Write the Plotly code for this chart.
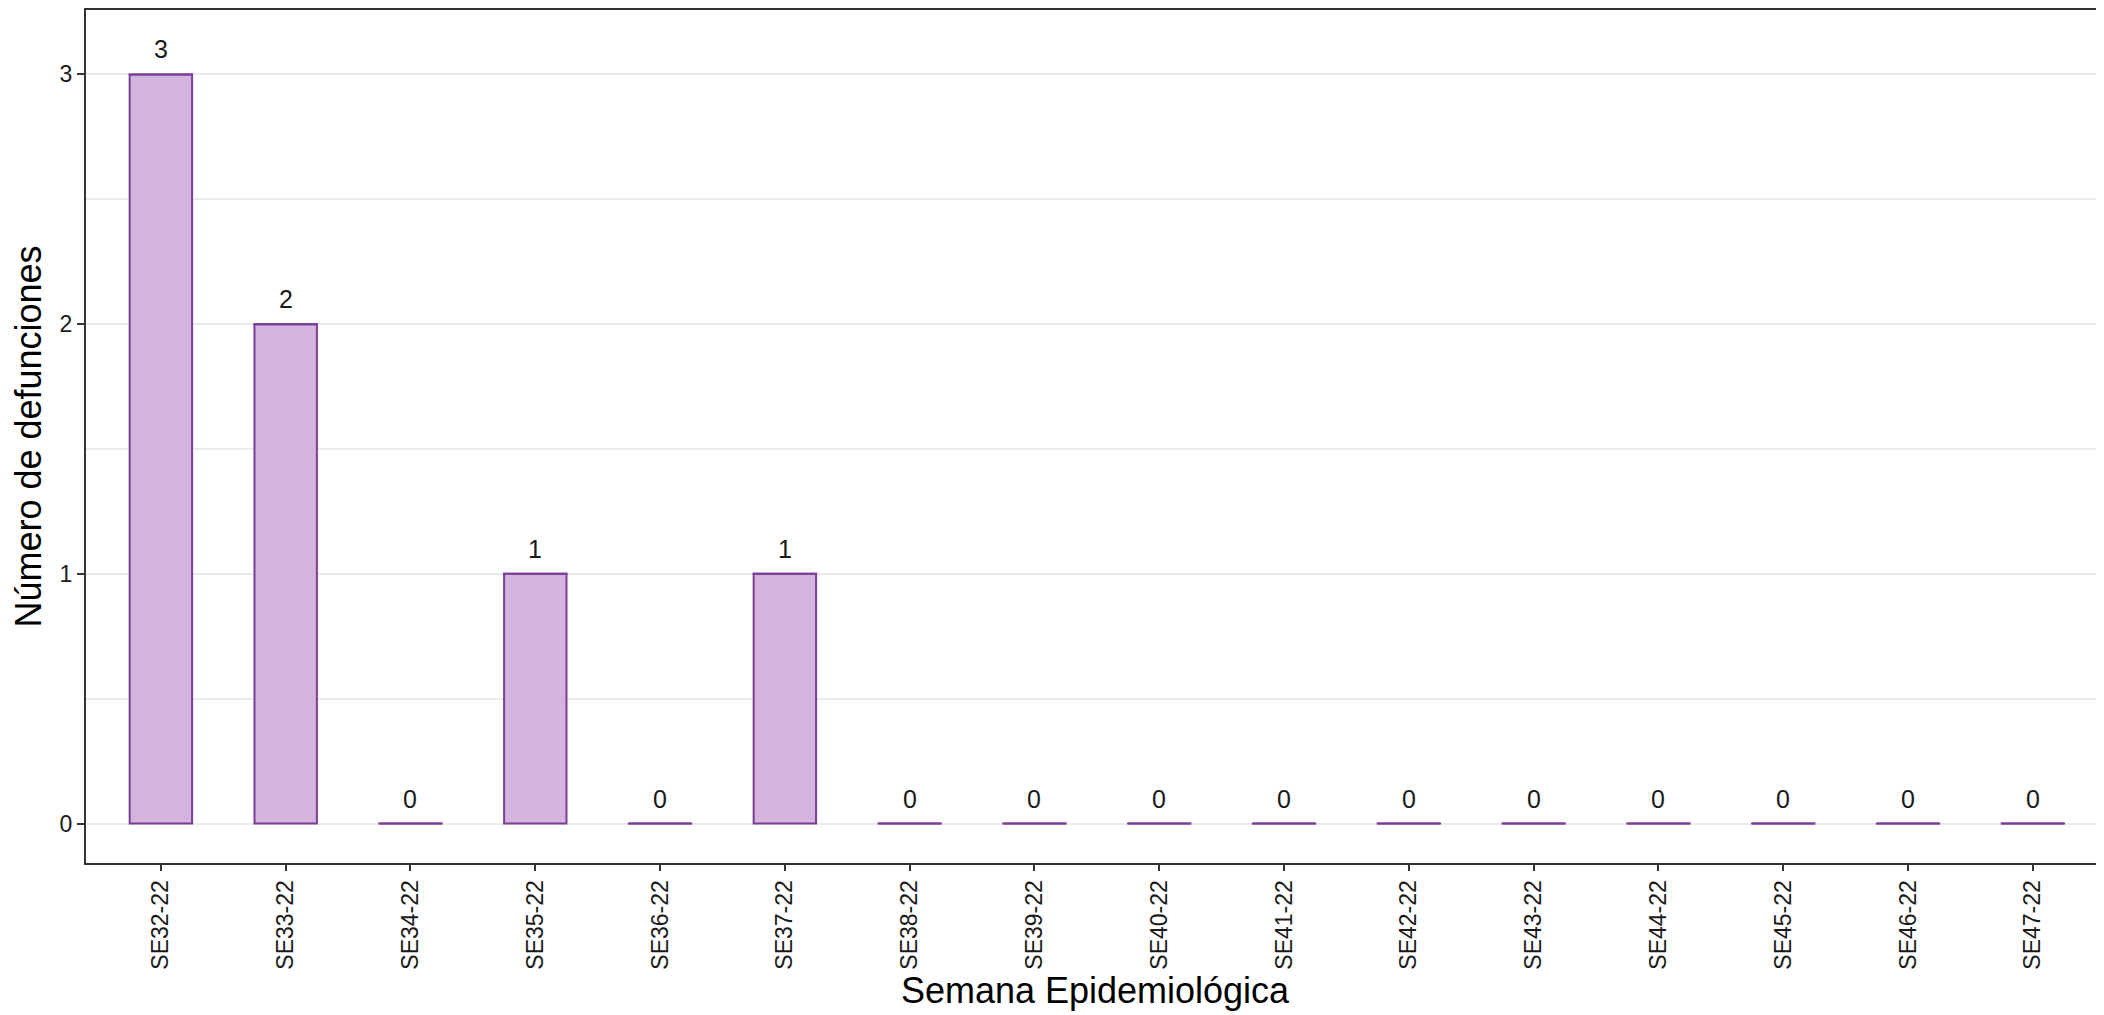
import plotly.graph_objects as go

weeks = ["SE32-22", "SE33-22", "SE34-22", "SE35-22", "SE36-22", "SE37-22", "SE38-22", "SE39-22",
         "SE40-22", "SE41-22", "SE42-22", "SE43-22", "SE44-22", "SE45-22", "SE46-22", "SE47-22"]
deaths = [3, 2, 0, 1, 0, 1, 0, 0, 0, 0, 0, 0, 0, 0, 0, 0]
y_ticks = [0, 1, 2, 3]

FILL = "#D4B4DE"
EDGE = "#7A3E96"
AXIS = "#333333"
TXT = "#1a1a1a"
FONT = "Liberation Sans, Arial, sans-serif"

fig = go.Figure()
fig.add_trace(go.Bar(
    x=list(range(len(weeks))), y=deaths, width=0.5,
    marker=dict(color=FILL, line=dict(color=EDGE, width=2)),
    hoverinfo="x+y", showlegend=False,
))
# outline segment for zero-height bars
fig.add_trace(go.Scatter(
    x=list(range(len(weeks))), y=deaths, mode="markers",
    marker=dict(symbol="line-ew", size=46, line=dict(color=EDGE, width=2)),
    hoverinfo="skip", showlegend=False,
))

for i, v in enumerate(deaths):
    fig.add_annotation(x=i, y=v, text=str(v), showarrow=False, yshift=25,
                       font=dict(family=FONT, size=25, color=TXT))

fig.update_layout(
    width=2096, height=1007, autosize=False,
    margin=dict(l=78, r=0, t=0, b=152),
    paper_bgcolor="white", plot_bgcolor="white",
    font=dict(family=FONT, color=TXT),
)
fig.update_xaxes(
    range=[-0.6, 15.57],
    tickmode="array", tickvals=list(range(len(weeks))), ticktext=weeks,
    tickangle=-90, tickfont=dict(family=FONT, size=23, color=TXT),
    ticks="outside", ticklen=6, tickwidth=2, tickcolor=AXIS,
    showline=True, linecolor=AXIS, linewidth=2, mirror=True,
    showgrid=False, zeroline=False,
    title=dict(text="Semana Epidemiológica", font=dict(family=FONT, size=36, color="black"), standoff=4),
)
fig.update_yaxes(
    range=[-0.158, 3.258],
    tickmode="array", tickvals=y_ticks, ticktext=[str(t) for t in y_ticks],
    tickfont=dict(family=FONT, size=23, color=TXT),
    ticks="outside", ticklen=7, tickwidth=2, tickcolor=AXIS,
    showline=True, linecolor=AXIS, linewidth=2, mirror=False,
    showgrid=True, gridcolor="#EBEBEB", gridwidth=1.5,
    minor=dict(dtick=0.5, tick0=0, showgrid=True, gridcolor="#EBEBEB", gridwidth=1.5, ticks=""),
    zeroline=False,
    title=dict(text="Número de defunciones", font=dict(family=FONT, size=36, color="black"), standoff=20),
)

fig.write_html("out.html")
